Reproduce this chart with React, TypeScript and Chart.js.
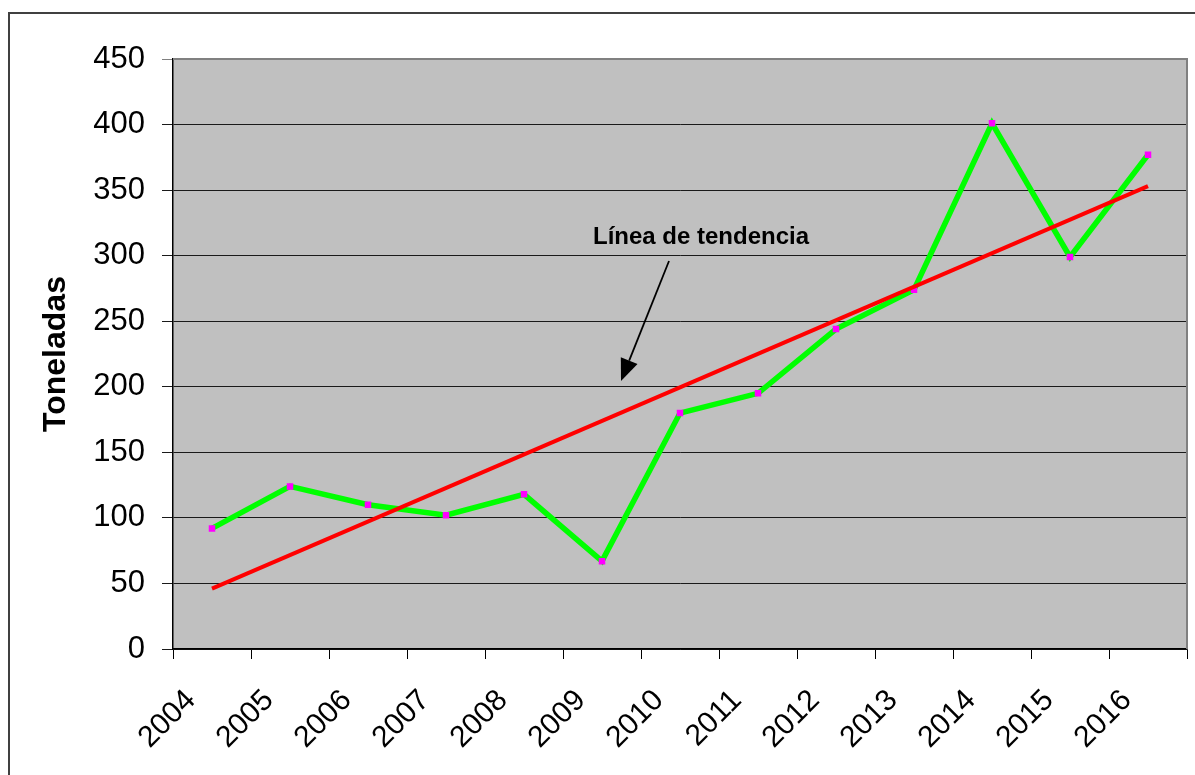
import React, { useEffect, useRef } from "react";
import { Chart, registerables } from "chart.js";

Chart.register(...registerables);

const years = ["2004", "2005", "2006", "2007", "2008", "2009", "2010", "2011", "2012", "2013", "2014", "2015", "2016"];
const toneladas = [92, 124, 110, 102, 118, 67, 180, 195, 244, 274, 401, 299, 377];
const trendStart = 46;
const trendEnd = 353;
const trendValues: (number | null)[] = years.map((_, i) =>
  i === 0 ? trendStart : i === years.length - 1 ? trendEnd : null
);
const yTitle = "Toneladas";
const annotationText = "Línea de tendencia";
const yMin = 0;
const yMax = 450;
const yStep = 50;

const FONT = "'Liberation Sans', Arial, sans-serif";

const decorPlugin = {
  id: "decor",
  beforeDraw(chart: any) {
    const { ctx, chartArea } = chart;
    ctx.save();
    ctx.fillStyle = "#ffffff";
    ctx.fillRect(0, 0, chart.width, chart.height);
    ctx.strokeStyle = "#404040";
    ctx.lineWidth = 2;
    ctx.strokeRect(9, 13, chart.width + 20, chart.height + 20);
    ctx.fillStyle = "#C0C0C0";
    ctx.fillRect(chartArea.left, chartArea.top, chartArea.right - chartArea.left, chartArea.bottom - chartArea.top);
    ctx.restore();
  },
  beforeDatasetsDraw(chart: any) {
    const { ctx, chartArea } = chart;
    ctx.save();
    ctx.strokeStyle = "#808080";
    ctx.lineWidth = 2;
    ctx.beginPath();
    ctx.moveTo(chartArea.left, chartArea.top);
    ctx.lineTo(chartArea.right, chartArea.top);
    ctx.lineTo(chartArea.right, chartArea.bottom);
    ctx.stroke();
    ctx.restore();
  },
  afterDraw(chart: any) {
    const { ctx, chartArea } = chart;
    const l = chartArea.left;
    const t = chartArea.top;
    ctx.save();
    ctx.fillStyle = "#000";
    ctx.font = `bold 24px ${FONT}`;
    ctx.textAlign = "center";
    ctx.textBaseline = "alphabetic";
    ctx.fillText(annotationText, l + 528, t + 185);
    // arrow
    const x1 = l + 496, y1 = t + 202;
    const x2 = l + 448, y2 = t + 322;
    const ang = Math.atan2(y2 - y1, x2 - x1);
    const headLen = 22, headHalf = 9;
    const bx = x2 - headLen * Math.cos(ang);
    const by = y2 - headLen * Math.sin(ang);
    ctx.strokeStyle = "#000";
    ctx.lineWidth = 1.8;
    ctx.beginPath();
    ctx.moveTo(x1, y1);
    ctx.lineTo(bx, by);
    ctx.stroke();
    ctx.beginPath();
    ctx.moveTo(x2, y2);
    ctx.lineTo(bx + headHalf * Math.sin(ang), by - headHalf * Math.cos(ang));
    ctx.lineTo(bx - headHalf * Math.sin(ang), by + headHalf * Math.cos(ang));
    ctx.closePath();
    ctx.fill();
    ctx.restore();
  },
};

export default function App() {
  const ref = useRef<HTMLCanvasElement | null>(null);
  useEffect(() => {
    if (!ref.current) return;
    const chart = new Chart(ref.current, {
      type: "line",
      data: {
        labels: years,
        datasets: [
          {
            label: "Tendencia",
            data: trendValues,
            borderColor: "#FF0000",
            borderWidth: 4,
            pointRadius: 0,
            pointHoverRadius: 0,
            spanGaps: true,
            fill: false,
            tension: 0,
            order: 0,
          },
          {
            label: "Toneladas",
            data: toneladas,
            borderColor: "#00FF00",
            borderWidth: 5.5,
            pointStyle: "rect",
            pointRadius: 4.6,
            pointBackgroundColor: "#FF00FF",
            pointBorderColor: "#FF00FF",
            pointBorderWidth: 0,
            fill: false,
            tension: 0,
            order: 1,
          },
        ],
      },
      options: {
        animation: false,
        responsive: false,
        devicePixelRatio: 1,
        layout: { padding: { left: 10, top: 59, right: 8, bottom: 0 } },
        plugins: { legend: { display: false }, tooltip: { enabled: false }, title: { display: false } },
        scales: {
          x: {
            type: "category",
            offset: true,
            afterFit: (scale: any) => {
              scale.height = 126;
              scale.paddingLeft = 0;
              scale.paddingRight = 0;
            },
            grid: {
              display: true,
              drawOnChartArea: false,
              drawTicks: true,
              tickLength: 10,
              offset: true,
              color: "#000",
              tickColor: "#000",
            },
            border: { display: true, color: "#000", width: 1.5 },
            ticks: {
              autoSkip: false,
              maxRotation: 45,
              minRotation: 45,
              labelOffset: -21,
              padding: 24,
              color: "#000",
              font: { family: FONT, size: 30 },
            },
          },
          y: {
            min: yMin,
            max: yMax,
            afterFit: (scale: any) => {
              scale.width = 163;
              scale.paddingTop = 0;
              scale.paddingBottom = 0;
            },
            grid: {
              color: (c: any) => (c.tick && c.tick.value === yMax ? "#808080" : "#1a1a1a"),
              tickColor: (c: any) => (c.tick && c.tick.value === yMax ? "#808080" : "#1a1a1a"),
              lineWidth: 1,
              tickLength: 11,
            },
            border: { display: true, color: "#000", width: 1.5 },
            ticks: {
              stepSize: yStep,
              padding: 17,
              color: "#000",
              font: { family: FONT, size: 31 },
            },
            title: {
              display: true,
              text: yTitle,
              color: "#000",
              font: { family: FONT, size: 32, weight: "bold" },
              padding: { top: 27, bottom: 0 },
            },
          },
        },
      },
      plugins: [decorPlugin],
    } as any);
    return () => chart.destroy();
  }, []);
  return (
    <div style={{ position: "absolute", left: 0, top: 0, width: 1195, height: 775 }}>
      <canvas ref={ref} width={1195} height={775} style={{ display: "block", width: 1195, height: 775 }} />
    </div>
  );
}
